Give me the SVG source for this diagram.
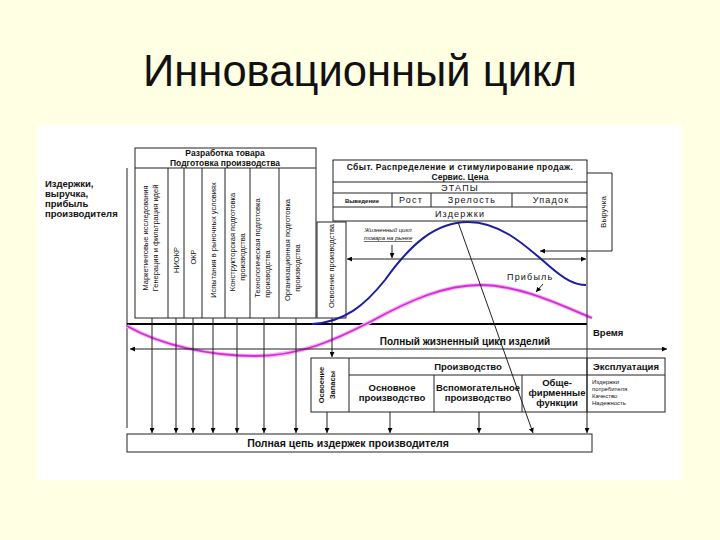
<svg xmlns="http://www.w3.org/2000/svg" width="720" height="540" viewBox="0 0 720 540">
<defs>
<marker id="ah" viewBox="0 0 8 8" refX="8" refY="4" markerWidth="5" markerHeight="5" orient="auto"><path d="M0,0 L8,4 L0,8 z" fill="#000"/></marker>
<style>
.t{font-family:"Liberation Sans",Arial,sans-serif;fill:#111}
.b{font-weight:bold}
.s8{font-size:8px}
.s85{font-size:8.5px}
.s9{font-size:9.5px}
.sp{font-size:9px;letter-spacing:1.2px}
.s7{font-size:7.5px}
.s6{font-size:6px}
.box{fill:#fff;stroke:#222;stroke-width:1}
.ln{stroke:#222;stroke-width:1;fill:none}
.ar{stroke:#222;stroke-width:1;fill:none;marker-end:url(#ah)}
</style>
</defs>
<rect x="0" y="0" width="720" height="540" fill="#FFFFE3"/>
<rect x="37" y="125" width="645" height="355" fill="#fff"/>
<text class="t" x="143" y="86" font-size="44" textLength="434" lengthAdjust="spacingAndGlyphs">Инновационный цикл</text>

<g id="ylabel">
<text class="t b s9" x="45" y="187">Издержки,</text>
<text class="t b s9" x="45" y="197">выручка,</text>
<text class="t b s9" x="45" y="207">прибыль</text>
<text class="t b s9" x="45" y="217">производителя</text>
</g>

<g id="axes">
<line class="ln" x1="127" y1="168" x2="127" y2="428"/>
<line x1="127" y1="324" x2="587" y2="324" stroke="#000" stroke-width="2"/>
<text class="t b s9" x="593" y="336">Время</text>
</g>

<g id="dev-box">
<rect class="box" x="135" y="148" width="181" height="170"/>
<line class="ln" x1="135" y1="168" x2="316" y2="168"/>
<text class="t b s85" x="225" y="156" text-anchor="middle">Разработка товара</text>
<text class="t b s85" x="225" y="166" text-anchor="middle">Подготовка производства</text>
<line class="ln" x1="168" y1="168" x2="168" y2="318"/>
<line class="ln" x1="184" y1="168" x2="184" y2="318"/>
<line class="ln" x1="202" y1="168" x2="202" y2="318"/>
<line class="ln" x1="225" y1="168" x2="225" y2="318"/>
<line class="ln" x1="250" y1="168" x2="250" y2="318"/>
<line class="ln" x1="279" y1="168" x2="279" y2="318"/>
<text class="t s7" transform="translate(148,238) rotate(-90)" text-anchor="middle">Маркетинговые исследования</text>
<text class="t s7" transform="translate(158,238) rotate(-90)" text-anchor="middle">Генерация и фильтрация идей</text>
<text class="t s7" transform="translate(179,260) rotate(-90)" text-anchor="middle">НИОКР</text>
<text class="t s7" transform="translate(196,257) rotate(-90)" text-anchor="middle">ОКР</text>
<text class="t s7" transform="translate(216,240) rotate(-90)" text-anchor="middle">Испытания в рыночных условиях</text>
<text class="t s7" transform="translate(235,242) rotate(-90)" text-anchor="middle">Конструкторская подготовка</text>
<text class="t s7" transform="translate(245,257) rotate(-90)" text-anchor="middle">производства</text>
<text class="t s7" transform="translate(260,248) rotate(-90)" text-anchor="middle">Технологическая подготовка</text>
<text class="t s7" transform="translate(270,274) rotate(-90)" text-anchor="middle">производства</text>
<text class="t s7" transform="translate(290,250) rotate(-90)" text-anchor="middle">Организационная подготовка</text>
<text class="t s7" transform="translate(300,268) rotate(-90)" text-anchor="middle">производства</text>
</g>

<g id="osv-box">
<rect class="box" x="317" y="222" width="29" height="96"/>
<text class="t s7" transform="translate(334,266) rotate(-90)" text-anchor="middle">Освоение производства</text>
</g>

<g id="market-box">
<rect class="box" x="333" y="160" width="254" height="61"/>
<line class="ln" x1="333" y1="182" x2="587" y2="182"/>
<line class="ln" x1="333" y1="193" x2="587" y2="193"/>
<line class="ln" x1="333" y1="207" x2="587" y2="207"/>
<line class="ln" x1="392" y1="193" x2="392" y2="207"/>
<line class="ln" x1="431" y1="193" x2="431" y2="207"/>
<line class="ln" x1="512" y1="193" x2="512" y2="207"/>
<text class="t b s85" x="460" y="170" text-anchor="middle" letter-spacing="0.4">Сбыт. Распределение и стимулирование продаж.</text>
<text class="t b s85" x="460" y="180" text-anchor="middle">Сервис. Цена</text>
<text class="t sp" x="460" y="191" text-anchor="middle">ЭТАПЫ</text>
<text class="t b s6" x="362" y="203" text-anchor="middle">Выведение</text>
<text class="t sp" x="411" y="203" text-anchor="middle">Рост</text>
<text class="t sp" x="472" y="203" text-anchor="middle">Зрелость</text>
<text class="t sp" x="551" y="203" text-anchor="middle">Упадок</text>
<text class="t sp" x="460" y="217" text-anchor="middle">Издержки</text>
</g>

<g id="revenue">
<polyline class="ln" points="587,173 612,173 612,251 540,251" marker-end="url(#ah)"/>
<text class="t s8" transform="translate(606,212) rotate(-90)" text-anchor="middle">Выручка</text>
</g>

<g id="life-label">
<text class="t s6" x="388" y="232" text-anchor="middle" font-style="italic">Жизненный цикл</text>
<text class="t s6" x="388" y="240" text-anchor="middle" font-style="italic" text-decoration="underline">товара на рынке</text>
</g>

<g id="curves">
<path d="M312,324 C345,322 365,305 385,280 C410,245 435,222 468,222 C500,222 525,245 548,265 C565,280 575,285 586,285" fill="none" stroke="#1c1ca0" stroke-width="2"/>
<path d="M127,326 C160,345 210,356 255,356 C300,356 335,340 370,322 C410,300 445,285 480,285 C520,285 560,305 592,318" fill="none" stroke="#f6b6f6" stroke-width="4"/>
<path d="M127,326 C160,345 210,356 255,356 C300,356 335,340 370,322 C410,300 445,285 480,285 C520,285 560,305 592,318" fill="none" stroke="#d22ed2" stroke-width="1.8"/>
<text class="t sp" x="507" y="280">Прибыль</text>
</g>

<g id="prod-table">
<rect class="box" x="311" y="358" width="354" height="54"/>
<line class="ln" x1="349" y1="358" x2="349" y2="412"/>
<line class="ln" x1="349" y1="375" x2="665" y2="375"/>
<line class="ln" x1="434" y1="375" x2="434" y2="412"/>
<line class="ln" x1="522" y1="375" x2="522" y2="412"/>
<line class="ln" x1="587" y1="358" x2="587" y2="412"/>
<text class="t s7 b" transform="translate(324,385) rotate(-90)" text-anchor="middle">Освоение</text>
<text class="t s7 b" transform="translate(335,385) rotate(-90)" text-anchor="middle">Запасы</text>
<text class="t b s9" x="468" y="370" text-anchor="middle">Производство</text>
<text class="t b s9" x="626" y="370" text-anchor="middle">Эксплуатация</text>
<text class="t b s9" x="392" y="391" text-anchor="middle">Основное</text>
<text class="t b s9" x="392" y="401" text-anchor="middle">производство</text>
<text class="t b s9" x="478" y="391" text-anchor="middle">Вспомогательное</text>
<text class="t b s9" x="478" y="401" text-anchor="middle">производство</text>
<text class="t b s9" x="557" y="386" text-anchor="middle">Обще-</text>
<text class="t b s9" x="557" y="396" text-anchor="middle">фирменные</text>
<text class="t b s9" x="557" y="406" text-anchor="middle">функции</text>
<text class="t s6" x="592" y="384">Издержки</text>
<text class="t s6" x="592" y="391">потребителя</text>
<text class="t s6" x="592" y="398">Качество</text>
<text class="t s6" x="592" y="405">Надежность</text>
</g>

<g id="total-box">
<rect class="box" x="127" y="434" width="465" height="18"/>
<text class="t b" font-size="10.5" x="348" y="447" text-anchor="middle">Полная цепь издержек производителя</text>
</g>

<g id="connectors">
<line class="ar" x1="152" y1="318" x2="152" y2="433"/>
<line class="ar" x1="176" y1="318" x2="176" y2="433"/>
<line class="ar" x1="193" y1="318" x2="193" y2="433"/>
<line class="ar" x1="213" y1="318" x2="213" y2="433"/>
<line class="ar" x1="237" y1="318" x2="237" y2="433"/>
<line class="ar" x1="264" y1="318" x2="264" y2="433"/>
<line class="ar" x1="296" y1="318" x2="296" y2="433"/>
<line class="ar" x1="332" y1="318" x2="332" y2="357"/>
<line class="ar" x1="327" y1="412" x2="327" y2="433"/>
<line class="ar" x1="390" y1="412" x2="390" y2="433"/>
<line class="ar" x1="479" y1="412" x2="479" y2="433"/>
<line class="ar" x1="587" y1="221" x2="587" y2="433"/>
<line class="ar" x1="458" y1="222" x2="533" y2="433"/>
<line class="ar" x1="392" y1="245" x2="392" y2="258"/>
<line class="ar" x1="467" y1="259" x2="586" y2="259"/>
<line class="ar" x1="467" y1="259" x2="347" y2="259"/>
<line class="ar" x1="300" y1="349" x2="130" y2="349"/>
<line class="ar" x1="300" y1="349" x2="667" y2="349"/>
<line class="ar" x1="543" y1="284" x2="536" y2="292"/>
<text class="t b" font-size="10" x="465" y="345" text-anchor="middle">Полный жизненный цикл изделий</text>
</g>
</svg>
